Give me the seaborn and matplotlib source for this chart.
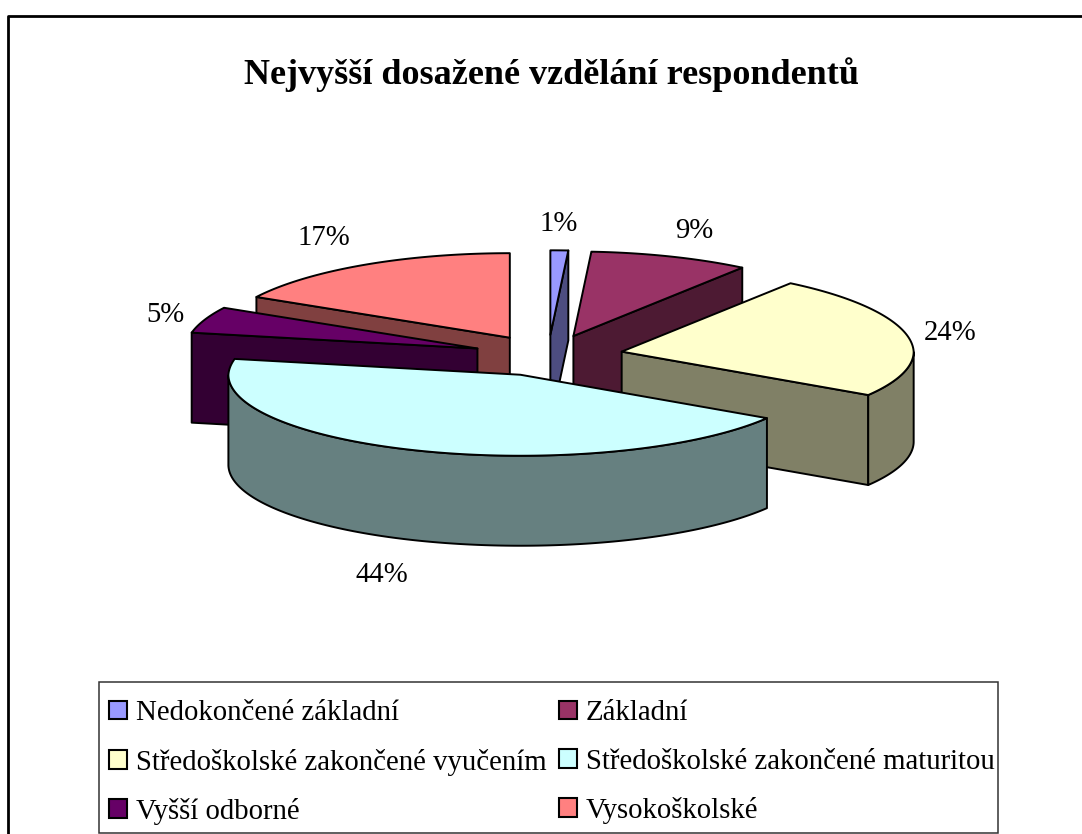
import numpy as np
import matplotlib
matplotlib.use("Agg")
import matplotlib.pyplot as plt
from matplotlib.patches import Patch, Rectangle
import seaborn as sns

title = "Nejvyšší dosažené vzdělání respondentů"
categories = ["Nedokončené základní", "Základní", "Středoškolské zakončené vyučením",
              "Středoškolské zakončené maturitou", "Vyšší odborné", "Vysokoškolské"]
values = [1, 9, 24, 44, 5, 17]
top_colors = ["#9999FF", "#993366", "#FFFFCC", "#CCFFFF", "#660066", "#FF8080"]

# geometry of the projected, exploded pie (pixels)
CX, CY, RX, RY_FRONT, RY_BACK, DEPTH, EXPL_X, EXPL_Y = 548, 355.5, 292, 81, 84.5, 90, 75, 20.7
BACK_SHRINK = 0.02
label_xy = [(559, 224), (694, 231), (950, 333), (382, 575), (165, 315), (324, 238)]
draw_order = [0, 1, 5, 4, 2, 3]

sns.set_theme(style="white")
palette = sns.color_palette(top_colors)
plt.rcParams["font.family"] = ["Liberation Serif", "DejaVu Serif"]
W, H = 1082, 834
fig = plt.figure(figsize=(W / 100, H / 100), dpi=100, facecolor="white")
ax = fig.add_axes([0, 0, 1, 1])
ax.set_xlim(0, W)
ax.set_ylim(H, 0)
ax.axis("off")

# chart frame: only the left and top edges fall inside the picture
ax.plot([7.5, 7.5, W + 5], [H + 5, 15.5, 15.5], color="black", lw=2)

cum = np.cumsum([0] + values) / sum(values) * 2 * np.pi
LW = 1.4


def shade(c):
    return tuple(v * 0.5 for v in c)


def rim(tx, ty, a):
    a = np.asarray(a, dtype=float)
    c = np.cos(a)
    back = c > 0
    x = tx + RX * np.sin(a) * np.where(back, 1 - BACK_SHRINK * c, 1.0)
    y = ty - np.where(back, RY_BACK, RY_FRONT) * c
    return x, y


for i in draw_order:
    a0, a1 = cum[i], cum[i + 1]
    mid = (a0 + a1) / 2
    tx = CX + EXPL_X * np.sin(mid)
    ty = CY - EXPL_Y * np.cos(mid)
    t = np.linspace(a0, a1, 200)
    rx, ry = rim(tx, ty, t)
    side = shade(palette[i])
    # radial walls that face the viewer
    for a, visible in ((a0, np.sin(a0) < 0), (a1, np.sin(a1) > 0)):
        if visible:
            ex, ey = rim(tx, ty, a)
            ax.fill([tx, ex, ex, tx], [ty, ey, ey + DEPTH, ty + DEPTH],
                    facecolor=side, edgecolor="black", lw=LW, joinstyle="round")
    # outer wall (front part only)
    front = np.cos(t) < 0
    if front.any():
        fx, fy = rx[front], ry[front]
        ax.fill(np.r_[fx, fx[::-1]], np.r_[fy, fy[::-1] + DEPTH],
                facecolor=side, edgecolor="black", lw=LW, joinstyle="round")
    # top face
    ax.fill(np.r_[tx, rx], np.r_[ty, ry], facecolor=palette[i],
            edgecolor="black", lw=LW, joinstyle="round")

for v, (x, y) in zip(values, label_xy):
    ax.text(x, y, f"{v}%", ha="center", va="center", fontsize=20.7, color="black")

ax.text(552, 75, title, ha="center", va="center", fontsize=26, fontweight="bold", color="black")

ax.add_patch(Rectangle((98.5, 681.5), 899.5, 151.5, facecolor="white", edgecolor="#333333", lw=1.1))
handles = [Patch(facecolor=c, edgecolor="black", lw=1.5) for c in palette]
order = [0, 2, 4, 1, 3, 5]
leg = ax.legend([handles[i] for i in order], [categories[i] for i in order], ncol=2,
                loc="lower left", bbox_to_anchor=(109 / W, 9 / H), bbox_transform=fig.transFigure,
                fontsize=20.7, frameon=False, labelcolor="black",
                handlelength=0.63, handleheight=0.63, handletextpad=0.31, columnspacing=0.42,
                labelspacing=0.78, borderpad=0, borderaxespad=0)

fig.savefig("out.png", dpi=100)
